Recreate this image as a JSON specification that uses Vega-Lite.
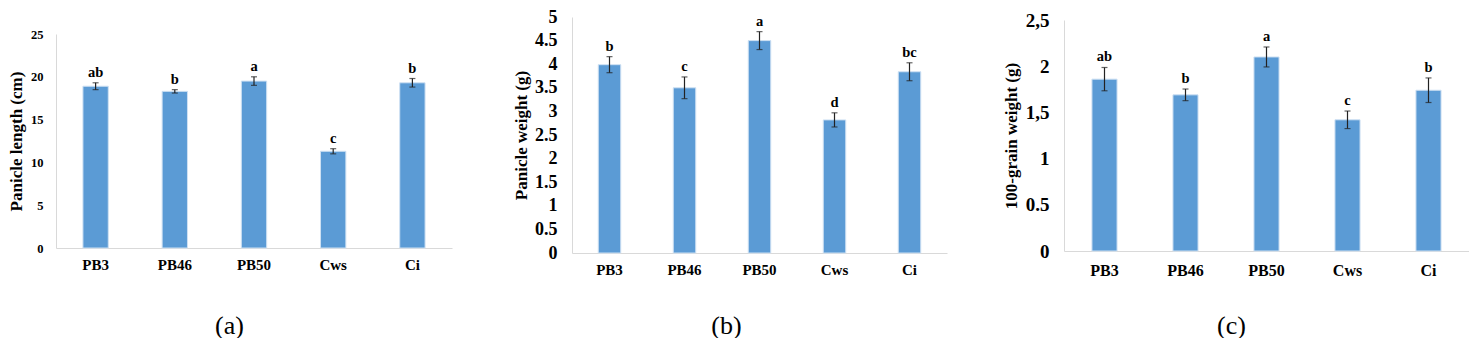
{
  "$schema": "https://vega.github.io/schema/vega-lite/v6.json",
  "padding": {"left": 7, "top": 8, "right": 0, "bottom": 0},
  "spacing": 60,
  "background": "white",
  "config": {
    "view": {"stroke": null},
    "font": "Liberation Serif",
    "concat": {"spacing": 60},
    "axis": {"grid": false, "ticks": false, "domainColor": "#d9d9d9", "domainWidth": 1, "labelOverlap": false, "labelFont": "Liberation Serif", "labelFontWeight": "bold", "labelColor": "#000000", "titleFont": "Liberation Serif", "titleFontWeight": "bold", "titleColor": "#000000"}
  },
  "datasets": {
    "a": [
      {"g": "PB3", "v": 18.9, "lo": 18.5, "hi": 19.3, "lab": "ab"},
      {"g": "PB46", "v": 18.3, "lo": 18.1, "hi": 18.5, "lab": "b"},
      {"g": "PB50", "v": 19.5, "lo": 19.0, "hi": 20.0, "lab": "a"},
      {"g": "Cws", "v": 11.3, "lo": 11.0, "hi": 11.6, "lab": "c"},
      {"g": "Ci", "v": 19.3, "lo": 18.8, "hi": 19.8, "lab": "b"}
    ],
    "b": [
      {"g": "PB3", "v": 3.99, "lo": 3.82, "hi": 4.16, "lab": "b"},
      {"g": "PB46", "v": 3.5, "lo": 3.27, "hi": 3.73, "lab": "c"},
      {"g": "PB50", "v": 4.5, "lo": 4.31, "hi": 4.69, "lab": "a"},
      {"g": "Cws", "v": 2.82, "lo": 2.67, "hi": 2.97, "lab": "d"},
      {"g": "Ci", "v": 3.84, "lo": 3.65, "hi": 4.03, "lab": "bc"}
    ],
    "c": [
      {"g": "PB3", "v": 1.86, "lo": 1.734, "hi": 1.986, "lab": "ab"},
      {"g": "PB46", "v": 1.69, "lo": 1.627, "hi": 1.753, "lab": "b"},
      {"g": "PB50", "v": 2.1, "lo": 1.992, "hi": 2.208, "lab": "a"},
      {"g": "Cws", "v": 1.42, "lo": 1.325, "hi": 1.515, "lab": "c"},
      {"g": "Ci", "v": 1.74, "lo": 1.607, "hi": 1.873, "lab": "b"}
    ]
  },
  "hconcat": [
    {
      "width": 396,
      "height": 231,
      "data": {"name": "a"},
      "encoding": {
        "x": {"field": "g", "type": "nominal", "sort": null,
          "scale": {"paddingInner": 0.68, "paddingOuter": 0.34},
          "axis": {"labelAngle": 0, "labelFontSize": 15, "labelPadding": 9, "title": "(a)", "titleFontWeight": "normal", "titleFontSize": 26, "titleX": 173, "titleY": 77, "titleBaseline": "middle", "titleAnchor": null}}
      },
      "layer": [
        {"mark": {"type": "bar", "color": "#5b9bd5", "stroke": "#cfe1f3", "strokeWidth": 1},
          "encoding": {"y": {"field": "v", "type": "quantitative",
            "scale": {"domain": [0, 25], "range": [231, 17], "nice": false},
            "axis": {"values": [0, 5, 10, 15, 20, 25], "tickCount": 6, "labelOverlap": false, "labelFontSize": 12.5, "labelPadding": 13, "title": "Panicle length (cm)", "titleFontSize": 17, "titlePadding": 5}}}},
        {"mark": {"type": "rule", "color": "#222222", "strokeWidth": 1.2},
          "encoding": {"y": {"field": "lo", "type": "quantitative"}, "y2": {"field": "hi"}}},
        {"mark": {"type": "tick", "color": "#222222", "size": 6, "thickness": 1.2},
          "encoding": {"y": {"field": "lo", "type": "quantitative"}}},
        {"mark": {"type": "tick", "color": "#222222", "size": 6, "thickness": 1.2},
          "encoding": {"y": {"field": "hi", "type": "quantitative"}}},
        {"mark": {"type": "text", "baseline": "bottom", "dy": -3, "fontSize": 14.5, "fontWeight": "bold", "font": "Liberation Serif", "color": "#000000"},
          "encoding": {"y": {"field": "hi", "type": "quantitative"}, "text": {"field": "lab"}}}
      ]
    },
    {
      "spacing": 55,
      "hconcat": [
        {
          "width": 375,
          "height": 236,
          "data": {"name": "b"},
          "encoding": {
            "x": {"field": "g", "type": "nominal", "sort": null,
              "scale": {"paddingInner": 0.7, "paddingOuter": 0.35},
              "axis": {"labelAngle": 0, "labelFontSize": 15, "labelPadding": 9, "title": "(b)", "titleFontWeight": "normal", "titleFontSize": 26, "titleX": 154, "titleY": 72, "titleBaseline": "middle", "titleAnchor": null}}
          },
          "layer": [
            {"mark": {"type": "bar", "color": "#5b9bd5", "stroke": "#cfe1f3", "strokeWidth": 1},
              "encoding": {"y": {"field": "v", "type": "quantitative",
                "scale": {"domain": [0, 5], "nice": false},
                "axis": {"values": [0, 0.5, 1, 1.5, 2, 2.5, 3, 3.5, 4, 4.5, 5], "tickCount": 11, "labelOverlap": false, "labelExpr": "format(datum.value, '~g')", "labelFontSize": 18, "labelPadding": 15, "title": "Panicle weight (g)", "titleFontSize": 17, "titlePadding": 4}}}},
            {"mark": {"type": "rule", "color": "#222222", "strokeWidth": 1.2},
              "encoding": {"y": {"field": "lo", "type": "quantitative"}, "y2": {"field": "hi"}}},
            {"mark": {"type": "tick", "color": "#222222", "size": 6, "thickness": 1.2},
              "encoding": {"y": {"field": "lo", "type": "quantitative"}}},
            {"mark": {"type": "tick", "color": "#222222", "size": 6, "thickness": 1.2},
              "encoding": {"y": {"field": "hi", "type": "quantitative"}}},
            {"mark": {"type": "text", "baseline": "bottom", "dy": -3, "fontSize": 14.5, "fontWeight": "bold", "font": "Liberation Serif", "color": "#000000"},
              "encoding": {"y": {"field": "hi", "type": "quantitative"}, "text": {"field": "lab"}}}
          ]
        },
        {
          "width": 405,
          "height": 234,
          "data": {"name": "c"},
          "encoding": {
            "x": {"field": "g", "type": "nominal", "sort": null,
              "scale": {"paddingInner": 0.69, "paddingOuter": 0.345},
              "axis": {"labelAngle": 0, "labelFontSize": 16, "labelPadding": 11, "title": "(c)", "titleFontWeight": "normal", "titleFontSize": 26, "titleX": 167, "titleY": 74, "titleBaseline": "middle", "titleAnchor": null}}
          },
          "layer": [
            {"mark": {"type": "bar", "color": "#5b9bd5", "stroke": "#cfe1f3", "strokeWidth": 1},
              "encoding": {"y": {"field": "v", "type": "quantitative",
                "scale": {"domain": [0, 2.5], "range": [234, 3], "nice": false},
                "axis": {"values": [0, 0.5, 1, 1.5, 2, 2.5], "tickCount": 6, "labelOverlap": false, "labelExpr": "datum.value == 2.5 ? '2,5' : datum.value == 1.5 ? '1,5' : format(datum.value, '~g')", "labelFontSize": 19, "labelPadding": 15, "title": "100-grain weight (g)", "titleFontSize": 17, "titlePadding": 5}}}},
            {"mark": {"type": "rule", "color": "#222222", "strokeWidth": 1.2},
              "encoding": {"y": {"field": "lo", "type": "quantitative"}, "y2": {"field": "hi"}}},
            {"mark": {"type": "tick", "color": "#222222", "size": 6, "thickness": 1.2},
              "encoding": {"y": {"field": "lo", "type": "quantitative"}}},
            {"mark": {"type": "tick", "color": "#222222", "size": 6, "thickness": 1.2},
              "encoding": {"y": {"field": "hi", "type": "quantitative"}}},
            {"mark": {"type": "text", "baseline": "bottom", "dy": -3, "fontSize": 14.5, "fontWeight": "bold", "font": "Liberation Serif", "color": "#000000"},
              "encoding": {"y": {"field": "hi", "type": "quantitative"}, "text": {"field": "lab"}}}
          ]
        }
      ]
    }
  ]
}
